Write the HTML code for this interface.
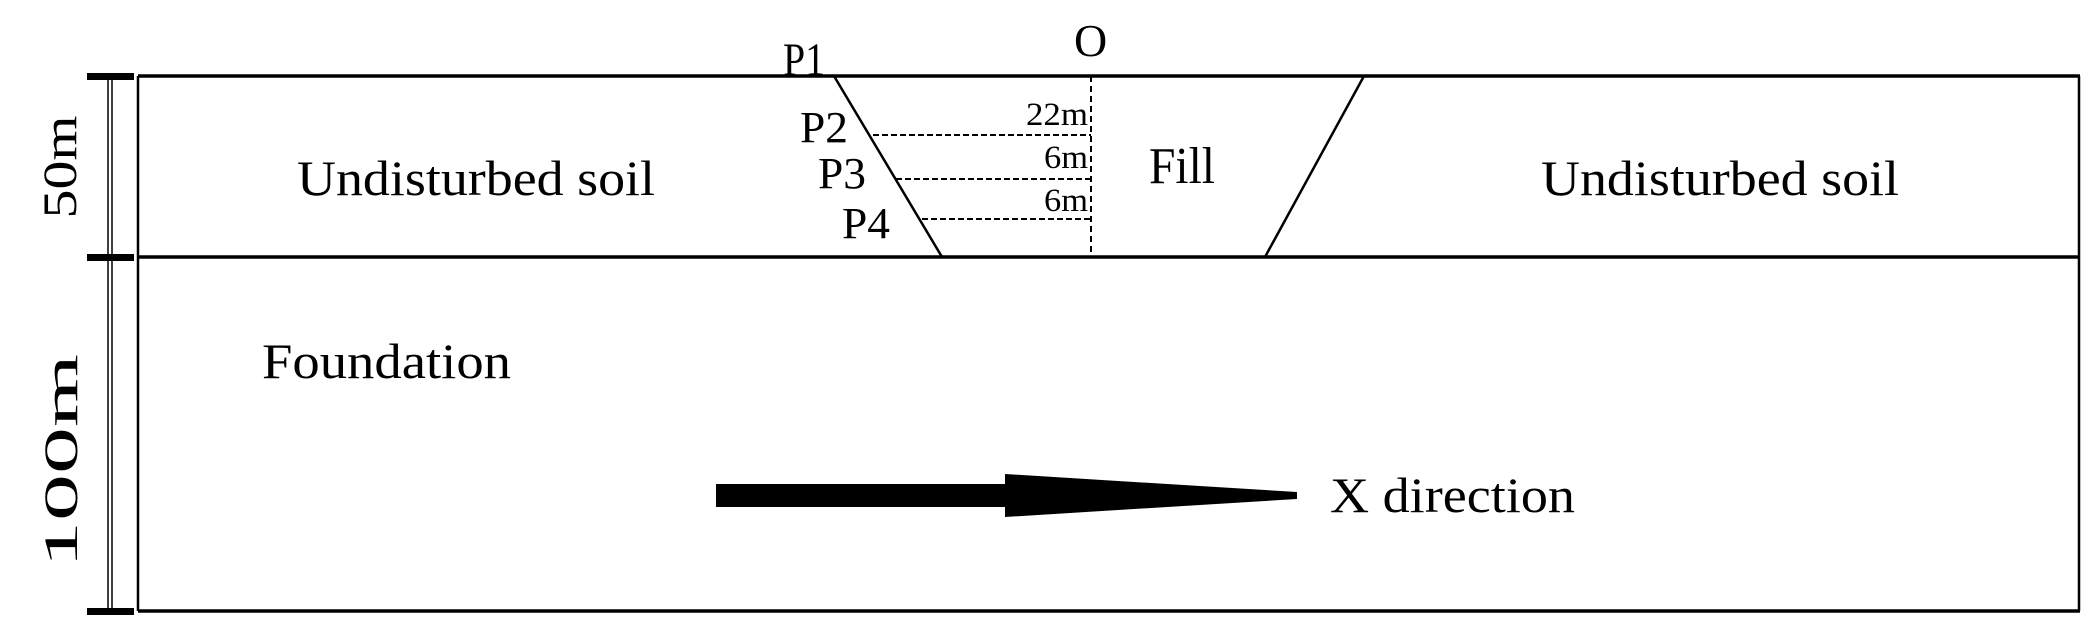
<!DOCTYPE html>
<html><head><style>html,body{margin:0;padding:0;background:#fff}svg{display:block}</style></head>
<body>
<svg width="2096" height="636" viewBox="0 0 2096 636" xmlns="http://www.w3.org/2000/svg" font-family="Liberation Serif, serif" fill="#000">
<line x1="138" y1="76" x2="2080" y2="76" stroke="#000" stroke-width="3.5"/>
<line x1="138" y1="257" x2="2080" y2="257" stroke="#000" stroke-width="3.5"/>
<line x1="138" y1="611" x2="2080" y2="611" stroke="#000" stroke-width="3.5"/>
<line x1="138" y1="76" x2="138" y2="611" stroke="#000" stroke-width="2.5"/>
<line x1="2079" y1="76" x2="2079" y2="611" stroke="#000" stroke-width="2.5"/>
<line x1="108" y1="76" x2="108" y2="611" stroke="#000" stroke-width="1.5"/>
<line x1="112" y1="76" x2="112" y2="611" stroke="#000" stroke-width="1.5"/>
<rect x="87" y="73" width="47" height="7"/>
<rect x="87" y="254" width="47" height="7"/>
<rect x="87" y="608" width="47" height="7"/>
<text transform="translate(76,167) rotate(-90)" font-size="48" text-anchor="middle" textLength="103" lengthAdjust="spacingAndGlyphs">50m</text>
<text transform="translate(77,461) rotate(-90)" font-size="48" text-anchor="middle" textLength="214" lengthAdjust="spacingAndGlyphs">100m</text>
<line x1="834" y1="76" x2="942" y2="257" stroke="#000" stroke-width="2.5"/>
<line x1="1364" y1="76" x2="1265" y2="257" stroke="#000" stroke-width="2.5"/>
<line x1="1091" y1="76" x2="1091" y2="257" stroke="#000" stroke-width="2" stroke-dasharray="6,4"/>
<line x1="873" y1="135" x2="1091" y2="135" stroke="#000" stroke-width="2" stroke-dasharray="6,3"/>
<line x1="896" y1="179" x2="1091" y2="179" stroke="#000" stroke-width="2" stroke-dasharray="6,3"/>
<line x1="922" y1="219" x2="1091" y2="219" stroke="#000" stroke-width="2" stroke-dasharray="6,3"/>
<text x="783" y="75" font-size="47" textLength="42" lengthAdjust="spacingAndGlyphs">P1</text>
<text x="1074" y="56" font-size="46">O</text>
<text x="800" y="142" font-size="44" textLength="48" lengthAdjust="spacingAndGlyphs">P2</text>
<text x="818" y="188" font-size="44" textLength="48" lengthAdjust="spacingAndGlyphs">P3</text>
<text x="842" y="238" font-size="44" textLength="48" lengthAdjust="spacingAndGlyphs">P4</text>
<text x="1088" y="125" font-size="33" text-anchor="end" textLength="62" lengthAdjust="spacingAndGlyphs">22m</text>
<text x="1088" y="168" font-size="33" text-anchor="end" textLength="44" lengthAdjust="spacingAndGlyphs">6m</text>
<text x="1088" y="211" font-size="33" text-anchor="end" textLength="44" lengthAdjust="spacingAndGlyphs">6m</text>
<text x="1149" y="183" font-size="52" textLength="66" lengthAdjust="spacingAndGlyphs">Fill</text>
<text x="297" y="195" font-size="50" textLength="358" lengthAdjust="spacingAndGlyphs">Undisturbed soil</text>
<text x="1541" y="195" font-size="50" textLength="358" lengthAdjust="spacingAndGlyphs">Undisturbed soil</text>
<text x="262" y="378" font-size="50" textLength="249" lengthAdjust="spacingAndGlyphs">Foundation</text>
<text x="1330" y="512" font-size="50" textLength="245" lengthAdjust="spacingAndGlyphs">X direction</text>
<path d="M716,484 L1005,484 L1005,474 L1297,492 L1297,499 L1005,517 L1005,507 L716,507 Z"/>
</svg>
</body></html>
